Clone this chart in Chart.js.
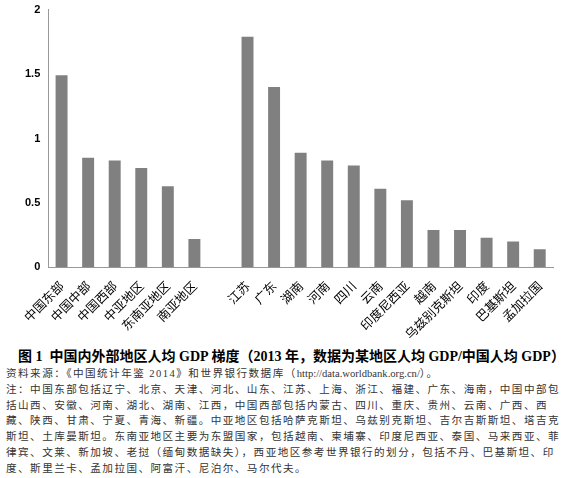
<!DOCTYPE html>
<html><head><meta charset="utf-8">
<script src="https://cdn.jsdelivr.net/npm/chart.js@4"></script>
<style>
body{margin:0;background:#fff;width:573px;height:478px;overflow:hidden;font-family:"Liberation Serif","Noto Sans CJK SC",serif;}
#wrap{position:absolute;left:0;top:0;width:573px;height:345px;}
#cap{position:absolute;left:6px;top:348px;width:565px;}
.t{font-size:14px;font-weight:bold;text-align:center;margin-left:6px;color:#000;line-height:18px;}
.n{font-size:10.6px;color:#333;line-height:15.8px;letter-spacing:1.45px;}
</style></head><body>
<div id="wrap"><canvas id="c"></canvas></div>
<div id="cap">
<div class="t">图 1&nbsp; 中国内外部地区人均 GDP 梯度（2013 年，数据为某地区人均 GDP/中国人均 GDP）</div>
<div class="n">资料来源：《中国统计年鉴 2014》和世界银行数据库（<span style="letter-spacing:0">http://data.worldbank.org.cn/</span>）。<br>注：中国东部包括辽宁、北京、天津、河北、山东、江苏、上海、浙江、福建、广东、海南，中国中部包括山西、安徽、河南、湖北、湖南、江西，中国西部包括内蒙古、四川、重庆、贵州、云南、广西、西藏、陕西、甘肃、宁夏、青海、新疆。中亚地区包括哈萨克斯坦、乌兹别克斯坦、吉尔吉斯斯坦、塔吉克斯坦、土库曼斯坦。东南亚地区主要为东盟国家，包括越南、柬埔寨、印度尼西亚、泰国、马来西亚、菲律宾、文莱、新加坡、老挝（缅甸数据缺失），西亚地区参考世界银行的划分，包括不丹、巴基斯坦、印度、斯里兰卡、孟加拉国、阿富汗、尼泊尔、马尔代夫。</div>
</div>
<script>
const categories=["中国东部","中国中部","中国西部","中亚地区","东南亚地区","南亚地区","","江苏","广东","湖南","河南","四川","云南","印度尼西亚","越南","乌兹别克斯坦","印度","巴基斯坦","孟加拉国"];
const values=[1.49,0.85,0.83,0.77,0.63,0.22,null,1.79,1.40,0.89,0.83,0.79,0.61,0.52,0.29,0.29,0.23,0.20,0.14];
const yTicks=[0,0.5,1,1.5,2];
new Chart(document.getElementById('c'),{
type:'bar',
data:{labels:categories,datasets:[{data:values,backgroundColor:'#808080',categoryPercentage:1,barPercentage:0.45}]},
options:{responsive:true,maintainAspectRatio:false,animation:false,
layout:{padding:{left:22,right:20,top:8,bottom:0}},
plugins:{legend:{display:false},tooltip:{enabled:false}},
scales:{
x:{grid:{display:false,drawTicks:true},border:{color:'#999'},
ticks:{maxRotation:45,minRotation:45,autoSkip:false,color:'#000',font:{family:'"Noto Sans CJK SC"',size:12.5}}},
y:{min:0,max:2,afterBuildTicks:a=>{a.ticks=yTicks.map(v=>({value:v}));},
grid:{display:false,drawTicks:true,tickLength:5},border:{color:'#999'},
ticks:{color:'#000',font:{family:'"Liberation Sans"',size:11,weight:'bold'},callback:v=>String(v)}}
}}});
</script>
</body></html>
